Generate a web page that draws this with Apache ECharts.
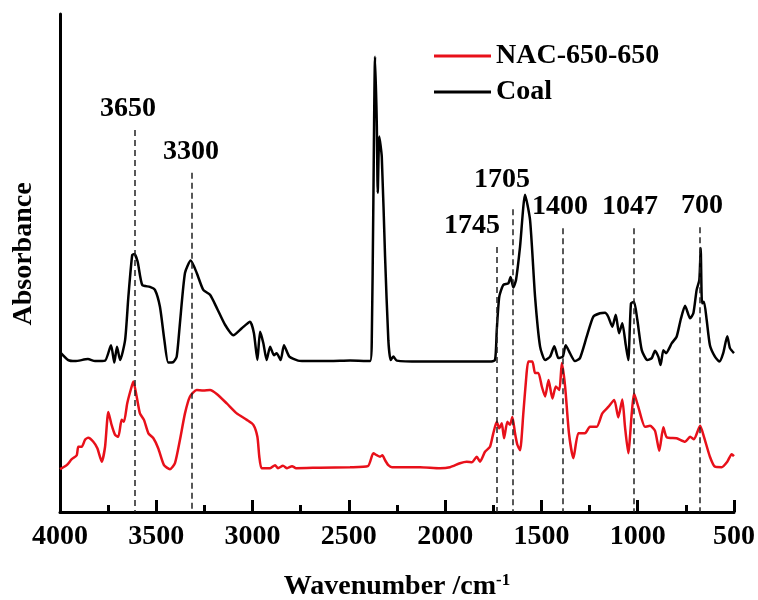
<!DOCTYPE html>
<html>
<head>
<meta charset="utf-8">
<script src="https://cdn.jsdelivr.net/npm/echarts@6/dist/echarts.min.js"></script>
<style>html,body{margin:0;padding:0;background:#fff}#c{width:758px;height:600px}</style>
</head>
<body>
<div id="c"></div>
<script>
// ---- data (wavenumber in cm^-1, absorbance in arbitrary offset units) ----
var coalWavenumber = [4000,3957,3922,3855,3818,3766,3735,3718,3704,3688,3662,3645,3625,3614,3597,3573,3533,3507,3481,3458,3438,3412,3394,3377,3351,3321,3290,3256,3221,3186,3143,3100,3056,3013,2993,2975,2961,2944,2927,2909,2889,2875,2854,2837,2809,2764,2702,2598,2494,2390,2381,2373,2364,2355,2350,2342,2329,2312,2295,2283,2269,2251,2130,1975,1819,1767,1741,1732,1719,1698,1672,1660,1646,1632,1611,1585,1559,1533,1507,1481,1455,1433,1412,1389,1374,1352,1326,1300,1265,1231,1196,1170,1153,1132,1114,1097,1080,1062,1049,1035,1019,1002,979,950,927,910,893,881,867,853,823,798,777,754,728,711,694,680,673,666,656,642,625,599,576,556,535,521,500];
var coalAbsorbance = [32.1,30.5,30.3,30.7,30.3,30.4,33.5,30.0,33.2,30.5,34.5,43.2,51.6,51.8,50.3,45.6,45.2,44.6,41.2,34.5,30.0,30.1,31.2,38.0,48.0,50.5,48.0,44.6,43.6,41.0,37.6,35.5,36.9,38.2,35.9,30.5,36.2,33.9,30.5,33.2,31.5,31.9,30.5,33.5,31.2,30.4,30.3,30.3,30.4,30.3,34.5,61.3,91.4,78.1,64.1,75.4,71.3,51.3,34.5,30.5,31.2,30.4,30.2,30.2,30.2,30.2,30.5,36.5,43.2,45.6,45.9,47.2,45.1,46.6,53.3,63.7,58.6,43.2,33.2,30.5,31.2,33.3,30.9,31.2,33.5,31.9,30.3,30.9,35.2,39.2,39.9,40.0,39.2,37.2,39.6,35.9,37.9,33.5,30.5,41.9,42.2,38.6,32.5,30.5,30.9,32.4,31.2,29.5,32.5,31.9,33.9,35.2,38.6,41.4,38.9,39.9,44.6,46.6,53.0,41.9,42.2,38.6,33.5,31.2,30.2,31.9,35.3,32.9,31.9];

var nacWavenumber = [4000,3991,3965,3939,3913,3905,3887,3870,3853,3827,3806,3783,3766,3749,3732,3714,3697,3680,3668,3651,3633,3619,3602,3585,3564,3541,3515,3490,3460,3429,3403,3377,3351,3325,3290,3256,3221,3186,3134,3082,3030,2996,2975,2965,2953,2909,2883,2868,2842,2821,2795,2774,2650,2494,2401,2373,2355,2338,2326,2312,2295,2276,2130,2027,1975,1923,1888,1860,1836,1819,1793,1767,1750,1732,1719,1706,1694,1677,1663,1651,1637,1625,1611,1594,1580,1568,1547,1533,1516,1498,1481,1463,1443,1425,1407,1394,1377,1357,1334,1308,1274,1248,1213,1184,1153,1122,1101,1080,1066,1049,1031,1019,997,962,936,910,888,867,849,798,754,728,708,676,656,625,599,564,535,512,500];
var nacAbsorbance = [8.6,8.8,9.4,10.6,11.4,13.1,13.1,14.5,14.9,14.1,12.8,10.1,13.1,20.1,17.5,15.5,15.1,18.5,18.1,21.8,24.5,26.2,23.2,19.8,18.5,15.8,14.8,12.8,9.4,8.6,9.8,14.5,19.8,23.2,24.5,24.4,24.5,23.7,21.8,19.8,18.5,17.5,15.1,11.1,8.8,8.8,9.4,8.8,9.3,8.8,9.2,8.8,8.9,9.0,9.2,11.8,11.4,11.1,11.4,10.4,9.4,9.0,9.0,8.8,9.0,9.8,10.1,10.0,11.1,10.1,12.1,13.1,15.8,18.1,16.8,17.8,14.8,18.1,17.5,19.1,15.8,13.5,12.4,19.8,26.5,30.2,30.2,27.9,27.9,25.2,23.2,26.5,22.8,25.2,24.5,29.9,25.2,15.8,10.8,15.8,15.8,17.1,17.1,19.8,21.1,22.5,19.0,22.6,17.1,11.8,19.8,23.8,21.1,17.1,17.3,16.3,12.3,17.0,15.0,14.8,14.1,15.1,14.6,17.3,15.1,11.1,9.1,9.0,10.1,11.6,11.2];

// peak markers: line position (wavenumber), top of dashed line, label text
var markerWavenumber = [3611, 3315, 1731, 1648, 1388, 1019, 676];
var markerTop = [76.7, 68.1, 53.2, 60.8, 57.0, 57.0, 57.2];
var markerLabel = ['3650', '3300', '1745', '1705', '1400', '1047', '700'];

var seriesNames = ['NAC-650-650', 'Coal'];
var xMin = 500, xMax = 4000, xStep = 500;

// ---- styles ----
var FONT = '"Liberation Serif", "Times New Roman", serif';
var labelShift = [[-7, 0], [-1, 0], [-25, 0], [-11, -8], [-3, 0], [-4, 0], [2, 0]];

function pairs(xs, ys) { return xs.map(function (x, i) { return [x, ys[i]]; }); }

var chart = echarts.init(document.getElementById('c'), null, {renderer: 'canvas'});
chart.setOption({
  animation: false,
  backgroundColor: '#ffffff',
  grid: {left: 60, right: 24, top: 14, bottom: 88, containLabel: false, outerBoundsMode: 'none'},
  legend: {
    data: seriesNames,
    orient: 'vertical',
    left: 429, top: 37,
    icon: 'rect',
    itemWidth: 57, itemHeight: 3, itemGap: 8,
    textStyle: {fontFamily: FONT, fontWeight: 'bold', fontSize: 28, color: '#000'}
  },
  xAxis: {
    type: 'value', inverse: true, min: xMin, max: xMax, interval: xStep,
    name: 'Wavenumber /cm{sup|-1}', nameLocation: 'middle', nameGap: 60,
    nameTextStyle: {fontFamily: FONT, fontWeight: 'bold', fontSize: 28, color: '#000',
      rich: {sup: {fontFamily: FONT, fontWeight: 'bold', fontSize: 17, color: '#000', verticalAlign: 'top', padding: [0, 0, 12, 0]}}},
    axisLine: {show: true, lineStyle: {color: '#000', width: 3}},
    axisTick: {show: true, inside: true, length: 12, lineStyle: {color: '#000', width: 3}},
    minorTick: {show: true, splitNumber: 2, length: 7, lineStyle: {color: '#000', width: 3}},
    axisLabel: {margin: 11, fontFamily: FONT, fontWeight: 'bold', fontSize: 28, color: '#000',
      formatter: function (v) { return String(v); }},
    splitLine: {show: false}
  },
  yAxis: {
    type: 'value', min: 0, max: 100,
    name: 'Absorbance', nameLocation: 'middle', nameGap: 22, nameRotate: 90,
    nameTextStyle: {fontFamily: FONT, fontWeight: 'bold', fontSize: 28, color: '#000', padding: [0, 0, 0, 18]},
    axisLine: {show: true, lineStyle: {color: '#000', width: 3}},
    axisTick: {show: false}, axisLabel: {show: false}, splitLine: {show: false}
  },
  series: [
    {
      name: seriesNames[0], type: 'line', data: pairs(nacWavenumber, nacAbsorbance),
      symbol: 'none', smooth: 0.2, lineStyle: {color: '#e8101a', width: 2.5}, itemStyle: {color: '#e8101a'}, z: 3
    },
    {
      name: seriesNames[1], type: 'line', data: pairs(coalWavenumber, coalAbsorbance),
      symbol: 'none', smooth: 0.2, lineStyle: {color: '#000', width: 2.5}, itemStyle: {color: '#000'}, z: 3
    },
    {
      name: 'markers', type: 'scatter', symbolSize: 0, z: 4, silent: true,
      data: markerWavenumber.map(function (w, i) {
        return {value: [w, markerTop[i]], name: markerLabel[i],
          label: {offset: labelShift[i]}};
      }),
      label: {show: true, position: 'top', distance: 7, formatter: '{b}', opacity: 1,
        textBorderWidth: 0, fontFamily: FONT, fontWeight: 'bold', fontSize: 28, color: '#000'},
      markLine: {
        silent: true, symbol: ['none', 'none'], label: {show: false},
        lineStyle: {color: '#222', width: 1.5, type: [6, 4], opacity: 1},
        data: markerWavenumber.map(function (w, i) {
          return [{coord: [w, markerTop[i]]}, {coord: [w, 0]}];
        })
      }
    }
  ]
});
</script>
</body>
</html>
